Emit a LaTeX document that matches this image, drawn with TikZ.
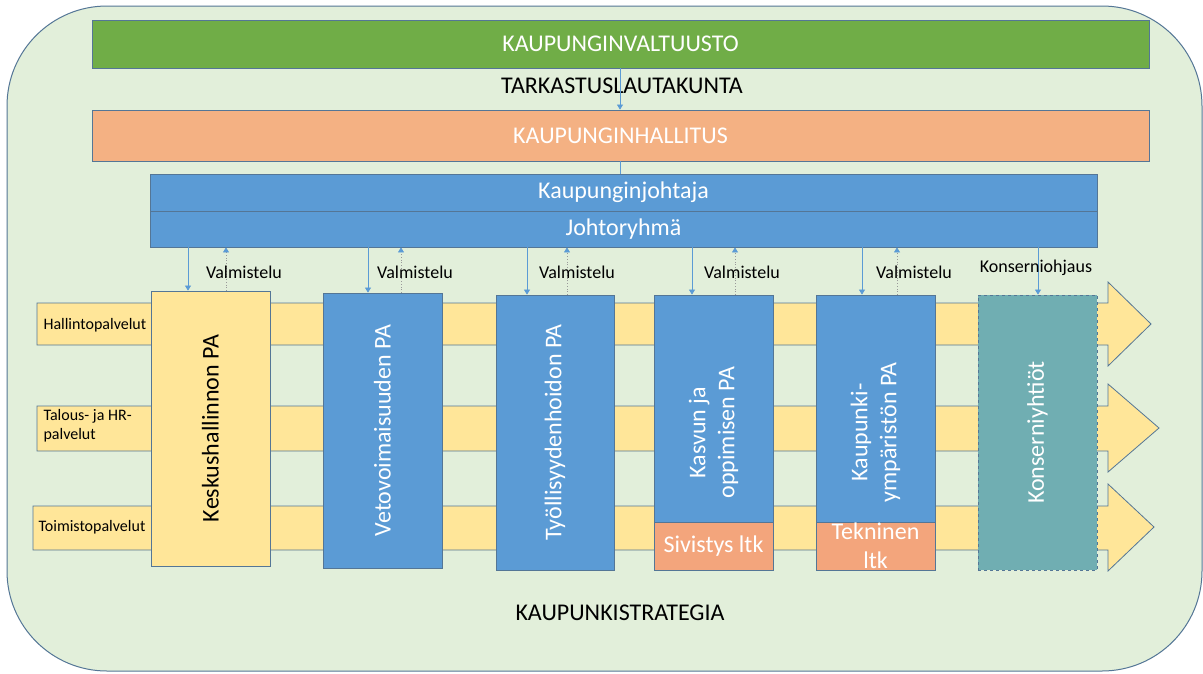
\documentclass[tikz,border=0pt]{standalone}
\usepackage{fontspec}
\setmainfont{Carlito}
\usetikzlibrary{arrows.meta}
\definecolor{bgfill}{RGB}{226,239,218}
\definecolor{edge}{RGB}{84,118,150}
\definecolor{gbar}{RGB}{112,173,71}
\definecolor{obar}{RGB}{244,177,131}
\definecolor{obox}{RGB}{243,165,124}
\definecolor{bbar}{RGB}{91,155,213}
\definecolor{ybar}{RGB}{255,230,153}
\definecolor{tbox}{RGB}{112,174,178}
\definecolor{arrc}{RGB}{91,155,213}
\begin{document}
\begin{tikzpicture}[x=1pt,y=-1pt,
  box/.style={draw=edge, line width=0.8pt, inner sep=0pt, anchor=center},
  colbox/.style={box, minimum width=119pt, minimum height=275pt},
  wt/.style={text=white},
  big/.style={font=\fontsize{24}{29}\selectfont},
  coltext/.style={big, rotate=90, align=center},
  band/.style={fill=ybar, draw=edge, line width=0.8pt},
  down/.style={draw=arrc, line width=0.7pt, -{Triangle[width=6pt,length=5pt]}},
  up/.style={draw=gray!80, line width=0.7pt, dotted, -{Triangle[width=6pt,length=5pt,color=arrc,fill=arrc]}},
  small/.style={font=\fontsize{18}{20}\selectfont},
  tiny/.style={font=\fontsize{16}{19}\selectfont, align=left, anchor=west}
]
\useasboundingbox (0,0) rectangle (1203,673);
\fill[white] (0,0) rectangle (1203,673);
\draw[fill=bgfill, draw=edge, line width=1pt, rounded corners=100pt] (7,6) rectangle (1202,671);

% top bars
\node[box, fill=gbar, minimum width=1057pt, minimum height=48pt, text=white, big] (kv) at (620.5,44) {KAUPUNGINVALTUUSTO};
\node[big] (tl) at (622,86) {TARKASTUSLAUTAKUNTA};
\node[box, fill=obar, minimum width=1057pt, minimum height=51pt, text=white, big] (kh) at (620.5,135.5) {KAUPUNGINHALLITUS};
\node[box, fill=bbar, minimum width=947pt, minimum height=37pt, text=white, big] (kj) at (623.5,192.5) {Kaupunginjohtaja};
\node[box, fill=bbar, minimum width=947pt, minimum height=36pt, text=white, big] (jr) at (623.5,229) {Johtoryhmä};

\coordinate (t1) at (620,68);
\draw[down] (t1 |- kv.south) -- (t1 |- kh.north);
\draw[draw=arrc, line width=0.7pt] (t1 |- kh.south) -- (t1 |- kj.north);

% bands
\path[band] (37,303) -- (1108,303) -- (1108,282) -- (1151,324) -- (1108,366) -- (1108,345) -- (37,345) -- cycle;
\path[band] (37,406) -- (1108,406) -- (1108,384) -- (1159,428) -- (1108,472) -- (1108,451) -- (37,451) -- cycle;
\path[band] (33,506) -- (1108,506) -- (1108,484) -- (1154,527) -- (1108,571) -- (1108,550) -- (33,550) -- cycle;
\node[tiny] (b1) at (40,325) {Hallintopalvelut};
\node[tiny] (b2) at (40,426) {Talous- ja HR-\\palvelut};
\node[tiny] (b3) at (35,527) {Toimistopalvelut};

% columns
\node[colbox, fill=ybar] (c1) at (210.5,428.5) {};
\node[coltext] at (c1.center) {Keskushallinnon PA};
\node[colbox, fill=bbar] (c2) at (382.5,430.5) {};
\node[coltext, wt] at (c2.center) {Vetovoimaisuuden PA};
\node[colbox, fill=bbar, minimum width=118pt] (c3) at (555,432.5) {};
\node[coltext, wt] at (c3.center) {Työllisyydenhoidon PA};
\node[colbox, fill=bbar] (c4) at (713.5,432.5) {};
\node[coltext, wt] at (c4.center) {Kasvun ja\\oppimisen PA};
\node[box, fill=obox, minimum width=119pt, minimum height=48pt, text=white, big] (s4) at (713.5,546) {Sivistys ltk};
\node[colbox, fill=bbar] (c5) at (875.5,432.5) {};
\node[coltext, wt] at (c5.center) {Kaupunki-\\ympäristön PA};
\node[box, fill=obox, minimum width=119pt, minimum height=48pt, text=white, big, align=center] (s5) at (875.5,546) {Tekninen\\ltk};
\node[colbox, fill=tbox, dashed] (c6) at (1037.5,432.5) {};
\node[coltext, wt] at (c6.center) {Konserniyhtiöt};

% connectors
\foreach \c/\dx/\ux in {c1/188/226, c2/368/401, c3/527/567, c4/692/735, c5/862/897}{
  \coordinate (d\c) at (\dx,0);
  \coordinate (u\c) at (\ux,0);
  \draw[down] (d\c |- jr.south) -- (d\c |- \c.north);
  \draw[up] (u\c |- \c.north) -- (u\c |- jr.south);
}
\coordinate (dc6) at (1038,0);
\draw[down] (dc6 |- jr.south) -- (dc6 |- c6.north);

\node[small] (v1) at (244,272) {Valmistelu};
\node[small] (v2) at (415,272) {Valmistelu};
\node[small] (v3) at (577,272) {Valmistelu};
\node[small] (v4) at (742,272) {Valmistelu};
\node[small] (v5) at (914,272) {Valmistelu};
\node[small] (ko) at (1036,268) {Konserniohjaus};

\node[big] (ks) at (620,613) {KAUPUNKISTRATEGIA};
\end{tikzpicture}
\end{document}
